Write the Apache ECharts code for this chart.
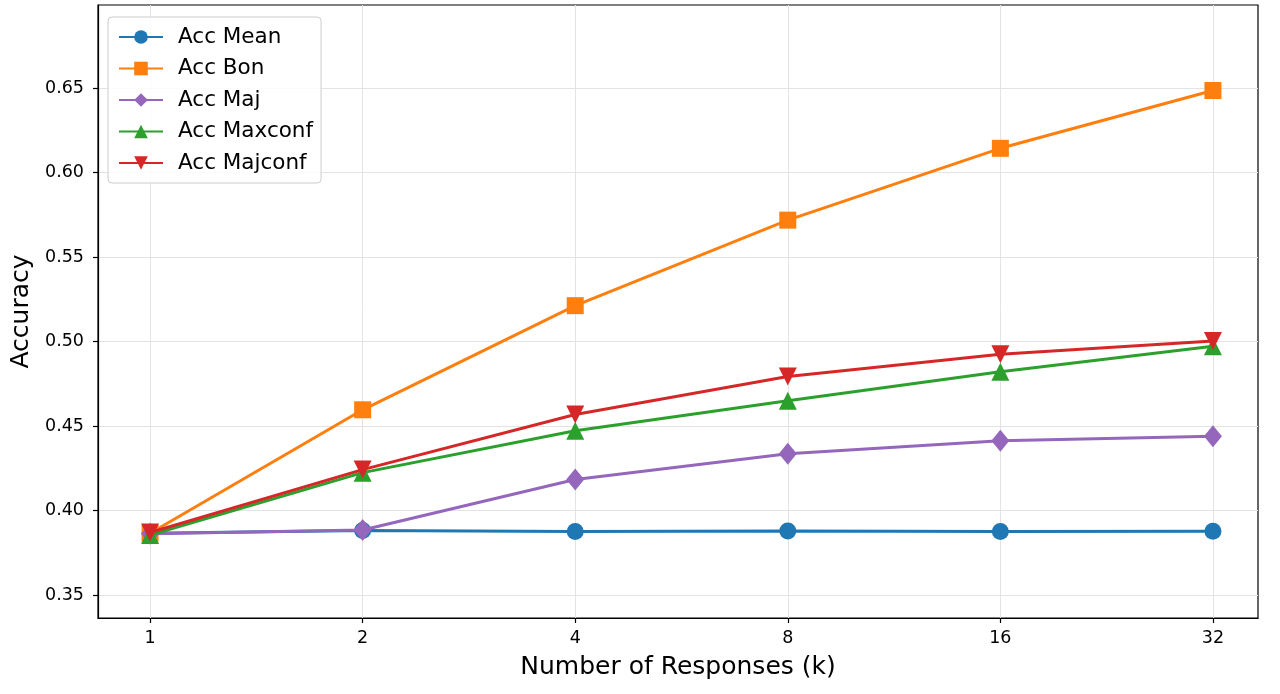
<!DOCTYPE html>
<html>
<head>
<meta charset="utf-8">
<script src="https://cdn.jsdelivr.net/npm/echarts@6/dist/echarts.min.js"></script>
<style>
html,body{margin:0;padding:0;background:#fff;}
#chart{width:1280px;height:694px;}
</style>
</head>
<body>
<div id="chart"></div>
<script>
const kValues = [1, 2, 4, 8, 16, 32];
const accMean = [0.3865, 0.3882, 0.3876, 0.3879, 0.3876, 0.3877];
const accBon = [0.3865, 0.4596, 0.5212, 0.5718, 0.6143, 0.6485];
const accMaj = [0.3862, 0.3885, 0.4183, 0.4336, 0.4413, 0.4439];
const accMaxconf = [0.3855, 0.4224, 0.4472, 0.4649, 0.4821, 0.4972];
const accMajconf = [0.3870, 0.4242, 0.4568, 0.4793, 0.4925, 0.5003];
const yTicks = [0.35, 0.40, 0.45, 0.50, 0.55, 0.60, 0.65];
const seriesNames = ['Acc Mean', 'Acc Bon', 'Acc Maj', 'Acc Maxconf', 'Acc Majconf'];

const colors = ['#1f77b4', '#ff7f0e', '#9467bd', '#2ca02c', '#d62728'];
const symbols = ['circle', 'rect', 'diamond', 'triangle', 'path://M0,0 L10,0 L5,9 Z'];
const symbolSizes = [17, 17, [18, 22], 18, 18];
const seriesData = [accMean, accBon, accMaj, accMaxconf, accMajconf];

const font = 'DejaVu Sans';
const chart = echarts.init(document.getElementById('chart'), null, {renderer: 'canvas'});
chart.setOption({
  animation: false,
  color: colors,
  textStyle: {fontFamily: font},
  grid: {left: 98, right: 22, top: 5, bottom: 76, show: true, borderColor: '#000', borderWidth: 1.2, containLabel: false},
  legend: {
    orient: 'vertical', left: 108, top: 17,
    itemWidth: 44, itemHeight: 17, itemGap: 9.5,
    padding: [9, 8, 9, 10],
    backgroundColor: 'rgba(255,255,255,0.85)',
    borderColor: '#cccccc', borderWidth: 1, borderRadius: 4,
    textStyle: {fontSize: 21.5, color: '#000', fontFamily: font, padding: [0, 0, 0, 10]},
    data: seriesNames
  },
  xAxis: {
    type: 'log', logBase: 2,
    min: Math.pow(2, -0.245), max: Math.pow(2, 5.212),
    name: 'Number of Responses (k)', nameLocation: 'middle', nameGap: 37,
    nameTextStyle: {fontSize: 25, color: '#000', fontFamily: font},
    axisLine: {show: true, lineStyle: {color: '#000', width: 1.2}},
    axisTick: {show: true, length: 5, lineStyle: {color: '#000', width: 1.2}, customValues: kValues},
    axisLabel: {fontSize: 17.5, color: '#000', margin: 11, customValues: kValues, formatter: v => String(Math.round(v))},
    splitLine: {show: true, lineStyle: {color: '#e3e3e3', width: 1}}
  },
  yAxis: {
    type: 'value', min: 0.3364, max: 0.6991,
    name: 'Accuracy', nameLocation: 'middle', nameGap: 64, nameRotate: 90,
    nameTextStyle: {fontSize: 25, color: '#000', fontFamily: font},
    axisLine: {show: true, lineStyle: {color: '#000', width: 1.2}},
    axisTick: {show: true, length: 5, lineStyle: {color: '#000', width: 1.2}, customValues: yTicks},
    axisLabel: {fontSize: 17.5, color: '#000', margin: 14, customValues: yTicks, formatter: v => v.toFixed(2)},
    splitLine: {show: true, lineStyle: {color: '#e3e3e3', width: 1}}
  },
  series: seriesNames.map((name, i) => ({
    name: name, type: 'line',
    data: kValues.map((k, j) => [k, seriesData[i][j]]),
    symbol: symbols[i], symbolSize: symbolSizes[i], showSymbol: true,
    lineStyle: {width: 3, color: colors[i]},
    itemStyle: {color: colors[i]},
    z: 2 + i
  }))
});
</script>
</body>
</html>
